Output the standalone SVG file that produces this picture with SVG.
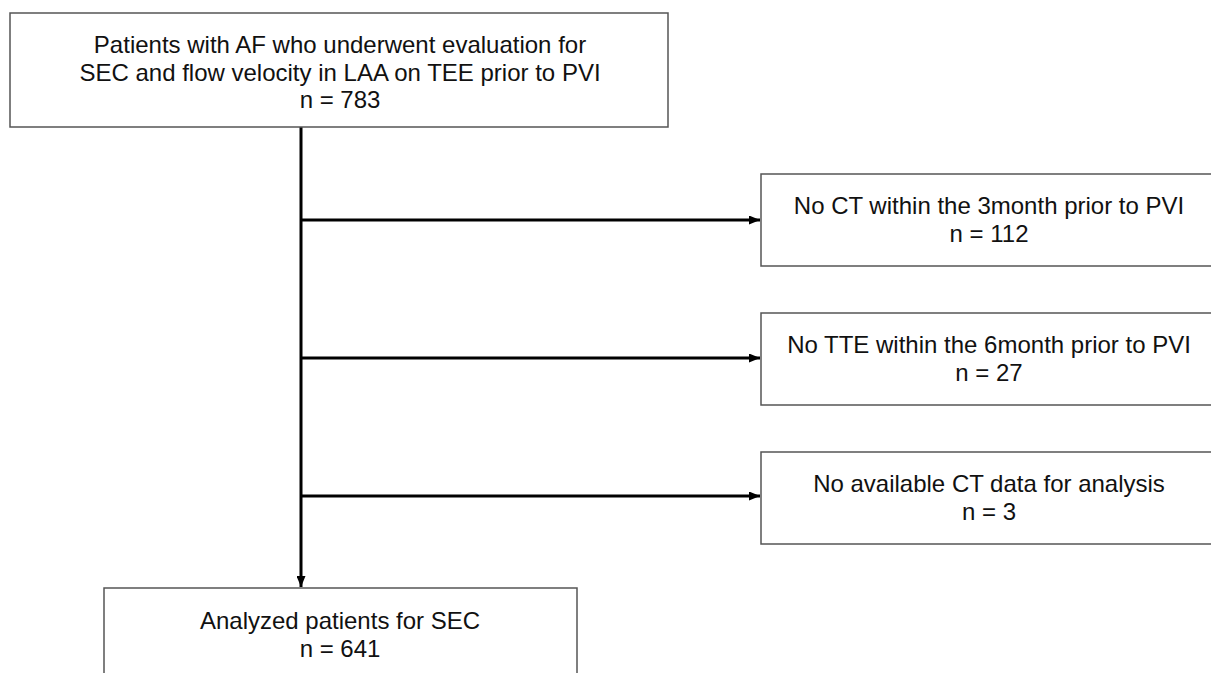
<svg xmlns="http://www.w3.org/2000/svg" width="1211" height="673" viewBox="0 0 1211 673">
<style>
.box{fill:#fff;stroke:#555;stroke-width:1.5}
.t{font-family:"Liberation Sans",Arial,sans-serif;font-size:24px;fill:#111;text-anchor:middle}
.c{stroke:#000;stroke-width:3;fill:none}
</style>
<defs>
<marker id="ah" markerWidth="11" markerHeight="9" refX="11" refY="4.5" orient="auto" markerUnits="userSpaceOnUse">
<path d="M0,0 L11,4.5 L0,9 Z" fill="#000"/>
</marker>
</defs>
<rect width="1211" height="673" fill="#fff"/>
<g id="connectors">
<line class="c" x1="301" y1="127" x2="301" y2="587" marker-end="url(#ah)"/>
<line class="c" x1="301" y1="220" x2="760" y2="220" marker-end="url(#ah)"/>
<line class="c" x1="301" y1="358" x2="760" y2="358" marker-end="url(#ah)"/>
<line class="c" x1="301" y1="496" x2="760" y2="496" marker-end="url(#ah)"/>
</g>
<g id="start">
<rect class="box" x="10" y="13" width="658" height="114"/>
<text class="t" x="340" y="53">Patients with AF who underwent evaluation for</text>
<text class="t" x="340" y="81">SEC and flow velocity in LAA on TEE prior to PVI</text>
<text class="t" x="340" y="108">n = 783</text>
</g>
<g id="excl1">
<rect class="box" x="761" y="174" width="460" height="92"/>
<text class="t" x="989" y="214">No CT within the 3month prior to PVI</text>
<text class="t" x="989" y="242">n = 112</text>
</g>
<g id="excl2">
<rect class="box" x="761" y="313" width="460" height="92"/>
<text class="t" x="989" y="353">No TTE within the 6month prior to PVI</text>
<text class="t" x="989" y="381">n = 27</text>
</g>
<g id="excl3">
<rect class="box" x="761" y="452" width="460" height="92"/>
<text class="t" x="989" y="492">No available CT data for analysis</text>
<text class="t" x="989" y="520">n = 3</text>
</g>
<g id="result">
<rect class="box" x="104" y="588" width="473" height="100"/>
<text class="t" x="340" y="629">Analyzed patients for SEC</text>
<text class="t" x="340" y="657">n = 641</text>
</g>
</svg>
